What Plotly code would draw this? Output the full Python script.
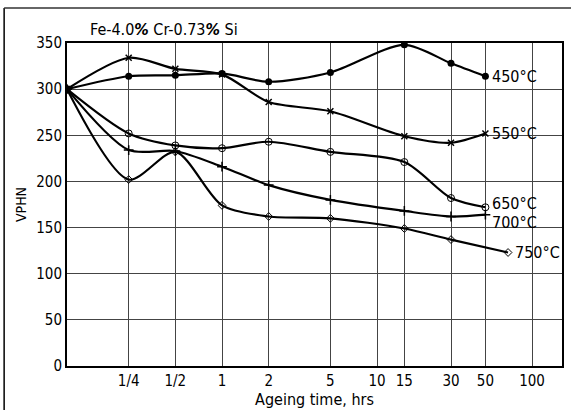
import math

import plotly.graph_objects as go

# ageing time (hrs); first point is the un-aged start at the left axis
times = [0.1, 0.25, 0.5, 1, 2, 5, 15, 30, 50]
times_750 = [0.1, 0.25, 0.5, 1, 2, 5, 15, 30, 70]

vphn_450 = [300, 314, 315, 317, 308, 318, 348, 328, 314]
vphn_550 = [300, 334, 322, 316, 286, 276, 249, 242, 252]
vphn_650 = [300, 252, 239, 236, 243, 232, 221, 182, 172]
vphn_700 = [300, 234, 233, 216, 196, 180, 168, 162, 164]
vphn_750 = [300, 202, 232, 174, 162, 160, 149, 137, 123]

tick_vals = [0.25, 0.5, 1, 2, 5, 10, 15, 30, 50, 100]
tick_text = ["1/4", "1/2", "1", "2", "5", "10", "15", "30", "50", "100"]

series = [
    ("450°C", times, vphn_450, dict(symbol="circle", size=7, color="black"), 0),
    ("550°C", times, vphn_550, dict(symbol="x-thin", size=6, color="black",
                                    line=dict(width=1.5, color="black")), 0),
    ("650°C", times, vphn_650, dict(symbol="circle-open", size=7, color="black"), 4),
    ("700°C", times, vphn_700, dict(symbol="cross-thin", size=7, color="black",
                                    line=dict(width=1.5, color="black")), -8),
    ("750°C", times_750, vphn_750, dict(symbol="diamond-open", size=6, color="black"), 0),
]

FONT = "DejaVu Sans Condensed, Liberation Sans Narrow, sans-serif"

fig = go.Figure()
for name, t, v, marker, dy in series:
    fig.add_trace(
        go.Scatter(
            x=t,
            y=v,
            mode="lines+markers",
            name=name,
            line=dict(color="black", width=2.2, shape="spline", smoothing=0.8),
            marker=marker,
            showlegend=False,
        )
    )
    fig.add_annotation(
        x=math.log10(t[-1]), y=v[-1], text=name, showarrow=False,
        xanchor="left", xshift=5, yshift=dy,
        font=dict(family=FONT, size=16, color="black"),
    )

fig.add_annotation(
    xref="paper", yref="paper", x=0.042, y=1.0, yanchor="bottom", yshift=2,
    text="Fe-4.0<b><i>%</i></b> Cr-0.73<b><i>%</i></b> Si",
    showarrow=False, xanchor="left",
    font=dict(family=FONT, size=16, color="black"),
)

# left and top edges of the scanned frame
fig.add_shape(type="line", xref="paper", yref="paper",
              x0=-0.127, x1=-0.127, y0=-0.2, y1=1.108,
              line=dict(color="black", width=1.5))
fig.add_shape(type="line", xref="paper", yref="paper",
              x0=-0.127, x1=1.02, y0=1.108, y1=1.108,
              line=dict(color="#333", width=1.5))

fig.update_layout(
    width=571,
    height=410,
    paper_bgcolor="white",
    plot_bgcolor="white",
    margin=dict(l=67, r=7, t=43, b=43),
    font=dict(family=FONT, size=15, color="black"),
    xaxis=dict(
        type="log",
        range=[math.log10(0.1), math.log10(156)],
        tickvals=tick_vals,
        ticktext=tick_text,
        showgrid=True,
        gridcolor="#444",
        gridwidth=1,
        showline=True,
        linecolor="black",
        linewidth=2,
        mirror=True,
        ticks="",
        zeroline=False,
        title=dict(text="Ageing time, hrs", standoff=2,
                   font=dict(family=FONT, size=16)),
    ),
    yaxis=dict(
        range=[0, 350],
        tickvals=[0, 50, 100, 150, 200, 250, 300, 350],
        showgrid=True,
        gridcolor="#444",
        gridwidth=1,
        showline=True,
        linecolor="black",
        linewidth=2,
        mirror=True,
        ticks="",
        zeroline=False,
        title=dict(text="VPHN", standoff=6, font=dict(family=FONT, size=14)),
    ),
)

fig.write_html("out.html", config={"displayModeBar": False},
               post_script="document.body.style.margin='0';")
